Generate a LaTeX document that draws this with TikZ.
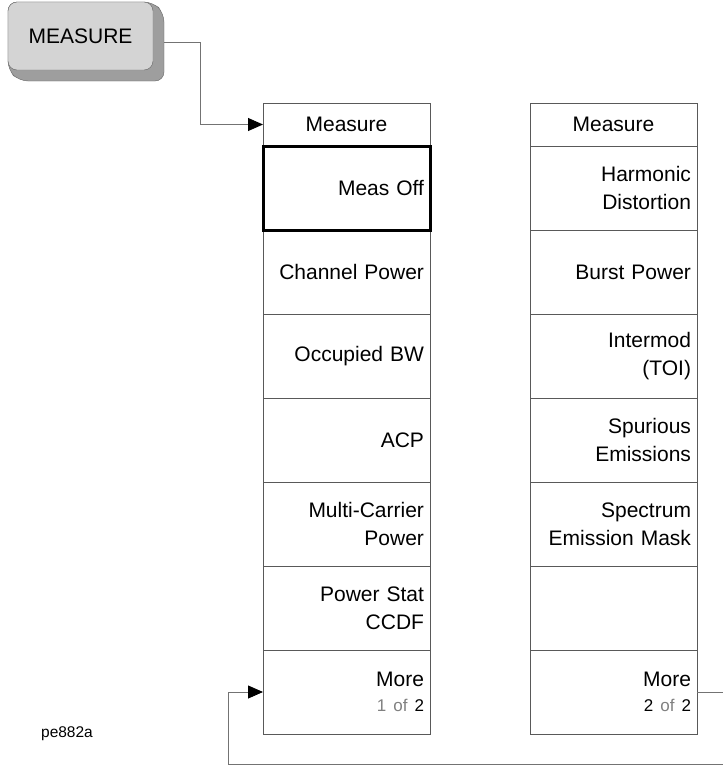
\documentclass[tikz,border=0pt]{standalone}
\usepackage{fontspec}
\setmainfont{Liberation Sans}
\usetikzlibrary{positioning,arrows.meta}
\colorlet{dimtext}{black!50}

\begin{document}
\begin{tikzpicture}[x=1pt,y=-1pt,
  cell/.style={draw=black!65,line width=0.9pt,minimum width=167pt,minimum height=84pt,
    text width=155pt,inner sep=0pt,outer sep=0pt,align=right,font=\fontsize{21}{28}\selectfont},
  head/.style={cell,minimum height=43pt,align=center},
  link/.style={draw=black!55,line width=0.9pt,-{Triangle[length=15pt,width=13pt,color=black]}}]
\useasboundingbox (0,0) rectangle (723,769);
\clip (0,0) rectangle (723,769);

% hard key
\fill[black!38,draw=black!60,rounded corners=9pt]
  (8,2)--(153,2)--(164,13)--(164,81)--(19,81)--(8,70)--cycle;
\node[draw=black!60,fill=black!17,rounded corners=9pt,minimum width=145pt,minimum height=68pt,
  outer sep=0pt,font=\fontsize{21}{24}\selectfont] (btn) at (80.5,36) {MEASURE};

% menu 1 of 2
\node[head] (h1) at (346.5,124.5) {Measure};
\node[cell,draw=none,below=0pt of h1] (off) {Meas Off};
\node[cell,below=0pt of off] (cp) {Channel Power};
\node[cell,below=0pt of cp] (obw) {Occupied BW};
\node[cell,below=0pt of obw] (acp) {ACP};
\node[cell,below=0pt of acp] (mcp) {Multi-Carrier\\Power};
\node[cell,below=0pt of mcp] (ccdf) {Power Stat\\CCDF};
\node[cell,below=0pt of ccdf] (m1) {More\\[-3pt]{\fontsize{17}{20}\selectfont\textcolor{dimtext}{1 of} 2}};
\draw[line width=3pt] (off.north west) rectangle (off.south east);

% menu 2 of 2
\node[head] (h2) at (613.5,124.5) {Measure};
\node[cell,below=0pt of h2] (harm) {Harmonic\\Distortion};
\node[cell,below=0pt of harm] (burst) {Burst Power};
\node[cell,below=0pt of burst] (toi) {Intermod\\(TOI)};
\node[cell,below=0pt of toi] (spur) {Spurious\\Emissions};
\node[cell,below=0pt of spur] (sem) {Spectrum\\Emission Mask};
\node[cell,below=0pt of sem] (blank) {};
\node[cell,below=0pt of blank] (m2) {More\\[-3pt]{\fontsize{17}{20}\selectfont 2 \textcolor{dimtext}{of} 2}};

\node[font=\fontsize{15.5}{18}\selectfont] (fig) at (67,734) {pe882a};

% connectors
\draw[link] ([xshift=11pt,yshift=-6pt]btn.east) -- ++(36,0) |- (h1.west);
\draw[link] (m2.east) -- ++(36,0) |- ([xshift=-35pt,yshift=-72pt]m1.west) |- (m1.west);
\end{tikzpicture}
\end{document}
